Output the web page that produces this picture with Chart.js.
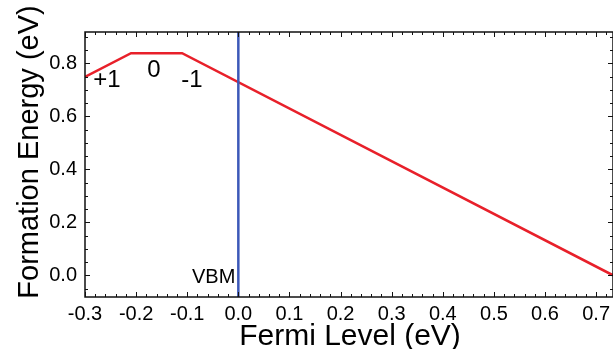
<!DOCTYPE html>
<html>
<head>
<meta charset="utf-8">
<script src="https://cdn.jsdelivr.net/npm/chart.js@4.4.0/dist/chart.umd.min.js"></script>
<style>
html, body { margin: 0; padding: 0; background: #fff; }
</style>
</head>
<body>
<canvas id="chart" width="613" height="349"></canvas>
<script>
"use strict";

// formation energy vs Fermi level (piecewise line), VBM marker at 0
const fermiLevel = [-0.3, -0.21, -0.11, 0.733];
const formationEnergy = [0.749, 0.838, 0.838, 0.0];
const vbmX = [0, 0];
const vbmY = [-0.082, 0.918];
const chargeStates = ["+1", "0", "-1"];
const xTicks = [-0.3, -0.2, -0.1, 0.0, 0.1, 0.2, 0.3, 0.4, 0.5, 0.6, 0.7];
const yTicks = [0.0, 0.2, 0.4, 0.6, 0.8];

const FONT = "'Liberation Sans', Arial, Helvetica, sans-serif";

function fmt(v) {
    if (Math.abs(v) < 1e-9) return "0.0";
    return v.toFixed(1);
}

// frame, inward ticks and the text labels
const framePlugin = {
    id: 'frame',
    afterDatasetsDraw(chart) {
        const ctx = chart.ctx;
        const a = chart.chartArea;
        const xs = chart.scales.x;
        const ys = chart.scales.y;
        ctx.save();
        ctx.strokeStyle = '#111';
        ctx.lineWidth = 1.5;
        ctx.strokeRect(a.left, a.top, a.right - a.left, a.bottom - a.top);

        ctx.lineWidth = 1;
        ctx.beginPath();
        // x ticks, every 0.02, major every 0.1
        for (let i = -15; i <= 37; i++) {
            const v = i * 0.02;
            if (v < xs.min - 1e-9 || v > xs.max + 1e-9) continue;
            const px = Math.round(xs.getPixelForValue(v)) + 0.5;
            const len = (i % 5 === 0) ? 5 : 3;
            ctx.moveTo(px, a.bottom); ctx.lineTo(px, a.bottom - len);
            ctx.moveTo(px, a.top); ctx.lineTo(px, a.top + len);
        }
        // y ticks, every 0.05, major every 0.2
        for (let i = -1; i <= 18; i++) {
            const v = i * 0.05;
            if (v < ys.min - 1e-9 || v > ys.max + 1e-9) continue;
            const py = Math.round(ys.getPixelForValue(v)) + 0.5;
            const len = (i % 4 === 0) ? 5 : 3;
            ctx.moveTo(a.left, py); ctx.lineTo(a.left + len, py);
            ctx.moveTo(a.right, py); ctx.lineTo(a.right - len, py);
        }
        ctx.stroke();

        ctx.fillStyle = '#000';
        // charge state labels
        const chargeX = [-0.257, -0.165, -0.091];
        const chargeY = [0.712, 0.750, 0.712];
        ctx.font = '24px ' + FONT;
        ctx.textAlign = 'center';
        ctx.textBaseline = 'alphabetic';
        chargeStates.forEach((t, i) => {
            ctx.fillText(t, xs.getPixelForValue(chargeX[i]), ys.getPixelForValue(chargeY[i]));
        });

        // VBM label
        ctx.font = '20px ' + FONT;
        ctx.textAlign = 'right';
        ctx.fillText('VBM', xs.getPixelForValue(0) - 3, 283);

        // axis titles
        ctx.font = '30px ' + FONT;
        ctx.textAlign = 'center';
        ctx.fillText('Fermi Level (eV)', 350, 345);

        ctx.save();
        ctx.translate(38, 152);
        ctx.rotate(-Math.PI / 2);
        ctx.font = '29px ' + FONT;
        ctx.fillText('Formation Energy (eV)', 0, 0);
        ctx.restore();

        ctx.restore();
    }
};

const ctx = document.getElementById('chart').getContext('2d');
const chart = new Chart(ctx, {
    type: 'scatter',
    data: {
        datasets: [
            {
                data: vbmX.map((x, i) => ({ x: x, y: vbmY[i] })),
                showLine: true,
                borderColor: '#3c58b8',
                borderWidth: 2.5,
                pointRadius: 0
            },
            {
                data: fermiLevel.map((x, i) => ({ x: x, y: formationEnergy[i] })),
                showLine: true,
                borderColor: '#e8202a',
                borderWidth: 2.5,
                pointRadius: 0
            }
        ]
    },
    options: {
        responsive: false,
        animation: false,
        layout: { padding: { top: 32, right: 0, left: 0, bottom: 0 } },
        plugins: { legend: { display: false }, tooltip: { enabled: false } },
        scales: {
            x: {
                type: 'linear',
                min: -0.3,
                max: 0.733,
                grid: { display: false, drawTicks: false },
                border: { display: false },
                afterBuildTicks: s => { s.ticks = xTicks.map(v => ({ value: v })); },
                afterFit: s => { s.height = 52; s.paddingLeft = 0; s.paddingRight = 0; },
                ticks: {
                    color: '#000',
                    font: { family: FONT, size: 20 },
                    padding: 5,
                    maxRotation: 0,
                    autoSkip: false,
                    callback: v => fmt(v)
                }
            },
            y: {
                type: 'linear',
                min: -0.082,
                max: 0.918,
                grid: { display: false, drawTicks: false },
                border: { display: false },
                afterBuildTicks: s => { s.ticks = yTicks.map(v => ({ value: v })); },
                afterFit: s => { s.width = 85; s.paddingTop = 0; s.paddingBottom = 0; },
                ticks: {
                    color: '#000',
                    font: { family: FONT, size: 20 },
                    padding: 8,
                    autoSkip: false,
                    callback: v => fmt(v)
                }
            }
        }
    },
    plugins: [framePlugin]
});
</script>
</body>
</html>
